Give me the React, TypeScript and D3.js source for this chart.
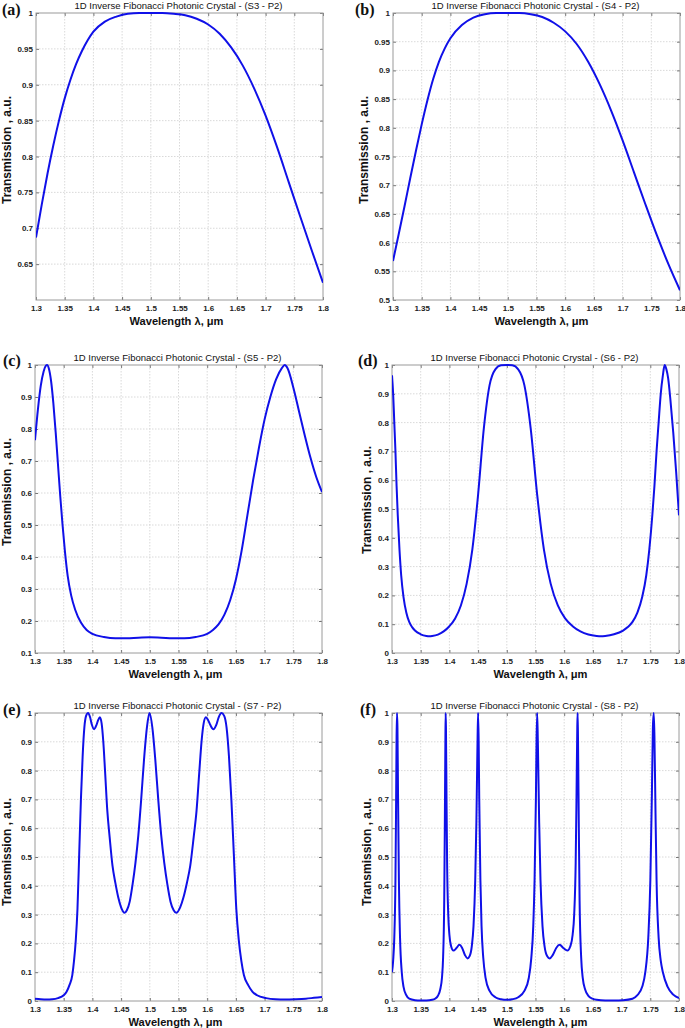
import React, { useEffect, useRef } from 'react';
import * as d3 from 'd3';

type Pt = [number, number];

const chartTitle = "1D Inverse Fibonacci Photonic Crystal";
const panelLetters = ["(a)", "(b)", "(c)", "(d)", "(e)", "(f)"];
const structureLabels = ["S3 - P2", "S4 - P2", "S5 - P2", "S6 - P2", "S7 - P2", "S8 - P2"];
const xAxisLabel = "Wavelength \u03bb, \u03bcm";
const yAxisLabel = "Transmission , a.u.";

const wavelengthDomain = [1.3, 1.8];
const wavelengthTicks = [1.3, 1.35, 1.4, 1.45, 1.5, 1.55, 1.6, 1.65, 1.7, 1.75, 1.8];

const yDomains = [[0.6, 1], [0.5, 1], [0.1, 1], [0, 1], [0, 1], [0, 1]];
const yTicksA = [0.65, 0.7, 0.75, 0.8, 0.85, 0.9, 0.95, 1];
const yTicksB = [0.5, 0.55, 0.6, 0.65, 0.7, 0.75, 0.8, 0.85, 0.9, 0.95, 1];
const yTicksC = [0.1, 0.2, 0.3, 0.4, 0.5, 0.6, 0.7, 0.8, 0.9, 1];
const yTicksFull = [0, 0.1, 0.2, 0.3, 0.4, 0.5, 0.6, 0.7, 0.8, 0.9, 1];

// S3 - P2
const seriesS3: Pt[] = [
    [1.30, 0.687], [1.31, 0.733], [1.32, 0.776], [1.33, 0.815], [1.34, 0.850], [1.35, 0.881],
    [1.36, 0.907], [1.37, 0.929], [1.38, 0.947], [1.39, 0.962], [1.40, 0.974], [1.42, 0.988],
    [1.44, 0.995], [1.46, 0.999], [1.48, 1.0], [1.50, 1.0], [1.52, 1.0], [1.54, 0.999],
    [1.56, 0.997], [1.58, 0.992], [1.60, 0.984], [1.62, 0.971], [1.64, 0.952], [1.66, 0.927],
    [1.68, 0.895], [1.70, 0.857], [1.72, 0.813], [1.74, 0.765], [1.76, 0.717], [1.78, 0.670],
    [1.80, 0.624]
];

// S4 - P2
const seriesS4: Pt[] = [
    [1.30, 0.568], [1.31, 0.615], [1.32, 0.663], [1.33, 0.712], [1.34, 0.760], [1.35, 0.806],
    [1.36, 0.848], [1.37, 0.885], [1.38, 0.915], [1.39, 0.938], [1.40, 0.956], [1.42, 0.979],
    [1.44, 0.992], [1.46, 0.998], [1.48, 1.0], [1.50, 1.0], [1.52, 1.0], [1.54, 0.998],
    [1.56, 0.993], [1.58, 0.983], [1.60, 0.968], [1.62, 0.946], [1.64, 0.915], [1.66, 0.876],
    [1.68, 0.830], [1.70, 0.778], [1.72, 0.722], [1.74, 0.666], [1.76, 0.612], [1.78, 0.562],
    [1.80, 0.517]
];

// S5 - P2
const seriesS5: Pt[] = [
    [1.300, 0.765], [1.305, 0.86], [1.310, 0.935], [1.315, 0.98], [1.319, 0.998], [1.321, 1.0],
    [1.324, 0.99], [1.328, 0.95], [1.332, 0.88], [1.336, 0.79], [1.340, 0.69], [1.344, 0.59],
    [1.348, 0.50], [1.352, 0.42], [1.357, 0.34], [1.363, 0.28], [1.37, 0.235], [1.38, 0.195],
    [1.39, 0.172], [1.40, 0.16], [1.42, 0.15], [1.44, 0.146], [1.46, 0.146], [1.48, 0.148],
    [1.50, 0.149], [1.52, 0.148], [1.54, 0.146], [1.56, 0.146], [1.58, 0.15], [1.60, 0.16],
    [1.61, 0.172], [1.62, 0.19], [1.63, 0.22], [1.64, 0.265], [1.65, 0.33], [1.66, 0.42],
    [1.67, 0.53], [1.68, 0.64], [1.69, 0.74], [1.70, 0.83], [1.71, 0.90], [1.72, 0.955],
    [1.73, 0.99], [1.735, 1.0], [1.74, 0.99], [1.75, 0.93], [1.76, 0.855], [1.77, 0.78],
    [1.78, 0.71], [1.79, 0.65], [1.80, 0.603]
];

// S6 - P2
const seriesS6: Pt[] = [
    [1.300, 0.964], [1.302, 0.90], [1.304, 0.80], [1.306, 0.70], [1.308, 0.58], [1.310, 0.48],
    [1.313, 0.36], [1.316, 0.27], [1.320, 0.195], [1.325, 0.14], [1.330, 0.108], [1.335, 0.09],
    [1.34, 0.078], [1.35, 0.065], [1.36, 0.059], [1.365, 0.058], [1.37, 0.059], [1.38, 0.064],
    [1.39, 0.075], [1.40, 0.093], [1.41, 0.12], [1.42, 0.165], [1.43, 0.24], [1.44, 0.36],
    [1.45, 0.55], [1.46, 0.78], [1.47, 0.93], [1.48, 0.985], [1.49, 0.999], [1.50, 1.0],
    [1.5095, 0.999], [1.5199, 0.985], [1.5306, 0.93], [1.5416, 0.78], [1.5529, 0.55],
    [1.5646, 0.36], [1.5765, 0.24], [1.5889, 0.165], [1.6016, 0.12], [1.6147, 0.093],
    [1.6282, 0.075], [1.6421, 0.064], [1.6565, 0.059], [1.6639, 0.058], [1.6714, 0.059],
    [1.6868, 0.065], [1.7026, 0.078], [1.7108, 0.09], [1.7190, 0.108], [1.7275, 0.14],
    [1.7360, 0.195], [1.7430, 0.27], [1.7483, 0.36], [1.7536, 0.48], [1.7572, 0.58],
    [1.7609, 0.70], [1.7645, 0.80], [1.7682, 0.90], [1.7719, 0.964], [1.775, 1.0],
    [1.778, 0.985], [1.781, 0.955], [1.785, 0.88], [1.79, 0.765], [1.795, 0.63], [1.80, 0.478]
];

// S7 - P2
const seriesS7: Pt[] = [
    [1.30, 0.008], [1.31, 0.006], [1.32, 0.005], [1.33, 0.006], [1.34, 0.01], [1.35, 0.02],
    [1.355, 0.032], [1.36, 0.055], [1.365, 0.09], [1.368, 0.14], [1.371, 0.21], [1.374, 0.32],
    [1.377, 0.51], [1.380, 0.70], [1.383, 0.85], [1.386, 0.95], [1.389, 0.99], [1.3925, 1.0],
    [1.396, 0.985], [1.399, 0.96], [1.403, 0.944], [1.407, 0.958], [1.410, 0.975], [1.413, 0.985],
    [1.416, 0.965], [1.419, 0.90], [1.422, 0.80], [1.426, 0.66], [1.43, 0.57], [1.435, 0.47],
    [1.44, 0.41], [1.445, 0.36], [1.45, 0.325], [1.456, 0.306], [1.46, 0.315], [1.465, 0.345],
    [1.47, 0.405], [1.475, 0.48], [1.48, 0.575], [1.485, 0.70], [1.49, 0.84], [1.495, 0.95],
    [1.4994, 1.0], [1.5044, 0.95], [1.5095, 0.84], [1.5147, 0.70], [1.5199, 0.575], [1.5252, 0.48],
    [1.5306, 0.405], [1.5361, 0.345], [1.5416, 0.315], [1.5461, 0.306], [1.5529, 0.325],
    [1.5587, 0.36], [1.5646, 0.41], [1.5705, 0.47], [1.5765, 0.57], [1.5814, 0.66], [1.5864, 0.80],
    [1.5901, 0.90], [1.5939, 0.965], [1.5977, 0.985], [1.6016, 0.975], [1.6055, 0.958],
    [1.6107, 0.944], [1.6160, 0.96], [1.6200, 0.985], [1.6248, 1.0], [1.6296, 0.99],
    [1.6337, 0.95], [1.6379, 0.85], [1.6421, 0.70], [1.6464, 0.51], [1.6507, 0.32], [1.6551, 0.21],
    [1.6594, 0.14], [1.6639, 0.09], [1.6714, 0.055], [1.6790, 0.032], [1.6868, 0.02],
    [1.7026, 0.01], [1.7190, 0.006], [1.7360, 0.005], [1.7536, 0.006], [1.7719, 0.008],
    [1.786, 0.011], [1.80, 0.014]
];

// S8 - P2
const seriesS8: Pt[] = [
    [1.300, 0.10], [1.302, 0.14], [1.304, 0.22], [1.306, 0.42], [1.307, 0.65], [1.308, 0.92],
    [1.3087, 1.0], [1.3095, 0.95], [1.3105, 0.72], [1.312, 0.42], [1.314, 0.22], [1.317, 0.10],
    [1.320, 0.05], [1.325, 0.02], [1.330, 0.008], [1.340, 0.003], [1.350, 0.002], [1.360, 0.002],
    [1.370, 0.004], [1.375, 0.008], [1.380, 0.018], [1.384, 0.04], [1.387, 0.08], [1.389, 0.15],
    [1.391, 0.35], [1.392, 0.6], [1.393, 0.9], [1.3935, 1.0], [1.394, 0.95], [1.395, 0.7],
    [1.396, 0.48], [1.398, 0.30], [1.400, 0.23], [1.403, 0.19], [1.407, 0.175], [1.412, 0.183],
    [1.4175, 0.195], [1.422, 0.185], [1.427, 0.16], [1.4315, 0.148], [1.435, 0.155], [1.439, 0.19],
    [1.442, 0.26], [1.445, 0.42], [1.447, 0.62], [1.449, 0.9], [1.450, 1.0], [1.451, 0.9],
    [1.452, 0.7], [1.454, 0.42], [1.456, 0.26], [1.459, 0.15], [1.463, 0.08], [1.470, 0.035],
    [1.480, 0.013], [1.490, 0.006], [1.500, 0.004], [1.5095, 0.006], [1.5199, 0.013],
    [1.5306, 0.035], [1.5383, 0.08], [1.5427, 0.15], [1.5461, 0.26], [1.5484, 0.42], [1.5507, 0.7],
    [1.5518, 0.9], [1.5529, 1.0], [1.5541, 0.9], [1.5564, 0.62], [1.5587, 0.42], [1.5622, 0.26],
    [1.5658, 0.19], [1.5705, 0.155], [1.5747, 0.148], [1.5802, 0.16], [1.5864, 0.185],
    [1.5920, 0.195], [1.5990, 0.183], [1.6055, 0.175], [1.6107, 0.19], [1.6147, 0.23],
    [1.6174, 0.30], [1.6200, 0.48], [1.6214, 0.7], [1.6228, 0.95], [1.6234, 1.0], [1.6241, 0.9],
    [1.6255, 0.6], [1.6268, 0.35], [1.6296, 0.15], [1.6323, 0.08], [1.6365, 0.04], [1.6421, 0.018],
    [1.6493, 0.008], [1.6565, 0.004], [1.6714, 0.002], [1.6868, 0.002], [1.7026, 0.003],
    [1.7190, 0.008], [1.7275, 0.02], [1.7360, 0.05], [1.7413, 0.10], [1.7465, 0.22], [1.7501, 0.42],
    [1.7528, 0.72], [1.7545, 0.95], [1.7560, 1.0], [1.7572, 0.92], [1.7591, 0.65], [1.7609, 0.42],
    [1.7645, 0.22], [1.7682, 0.14], [1.7719, 0.10], [1.78, 0.05], [1.79, 0.022], [1.80, 0.01]
];

const allSeries = [seriesS3, seriesS4, seriesS5, seriesS6, seriesS7, seriesS8];
const allYTicks = [yTicksA, yTicksB, yTicksC, yTicksFull, yTicksFull, yTicksFull];

// pixel boxes of the six axes
const layout = [
    { left: 36, right: 323, top: 13, bottom: 300, letterX: 2, letterY: 15, yLabX: 11, yLabY: 150, xLabDx: -3 },
    { left: 393, right: 680, top: 13, bottom: 300, letterX: 355, letterY: 15, yLabX: 368, yLabY: 150, xLabDx: 5 },
    { left: 35, right: 322, top: 365, bottom: 653, letterX: 3, letterY: 366, yLabX: 11, yLabY: 492, xLabDx: -3 },
    { left: 392, right: 679, top: 365, bottom: 653, letterX: 358, letterY: 366, yLabX: 371, yLabY: 500, xLabDx: 5 },
    { left: 35, right: 322, top: 713, bottom: 1001, letterX: 3, letterY: 715, yLabX: 11, yLabY: 852, xLabDx: -3 },
    { left: 392, right: 679, top: 713, bottom: 1001, letterX: 360, letterY: 715, yLabX: 371, yLabY: 852, xLabDx: 5 },
];

const FONT = "'Liberation Sans', Arial, Helvetica, sans-serif";

const App: React.FC = () => {
    const ref = useRef<SVGSVGElement>(null);

    useEffect(() => {
        const svg = d3.select(ref.current);
        svg.selectAll("*").remove();

        allSeries.forEach((series, i) => {
            const L = layout[i];
            const x = d3.scaleLinear().domain(wavelengthDomain).range([L.left, L.right]);
            const y = d3.scaleLinear().domain(yDomains[i]).range([L.bottom, L.top]);
            const yTicks = allYTicks[i];
            const g = svg.append("g");

            // grid
            g.append("g")
                .selectAll("line")
                .data(wavelengthTicks.slice(1, -1))
                .enter()
                .append("line")
                .attr("x1", d => x(d)).attr("x2", d => x(d))
                .attr("y1", L.top).attr("y2", L.bottom)
                .attr("stroke", "#cfcfcf")
                .attr("stroke-width", 0.8)
                .attr("stroke-dasharray", "1.5,1.5");

            g.append("g")
                .selectAll("line")
                .data(yTicks.filter(t => t !== yDomains[i][0] && t !== yDomains[i][1]))
                .enter()
                .append("line")
                .attr("x1", L.left).attr("x2", L.right)
                .attr("y1", d => y(d)).attr("y2", d => y(d))
                .attr("stroke", "#cfcfcf")
                .attr("stroke-width", 0.8)
                .attr("stroke-dasharray", "1.5,1.5");

            // axes (ticks point inwards)
            const fmt = (d: d3.NumberValue) => String(+d);
            const bottomAxis = g.append("g")
                .attr("transform", `translate(0, ${L.bottom})`)
                .call(d3.axisBottom(x).tickValues(wavelengthTicks).tickSizeInner(-3).tickSizeOuter(0).tickPadding(5).tickFormat(fmt));
            const leftAxis = g.append("g")
                .attr("transform", `translate(${L.left}, 0)`)
                .call(d3.axisLeft(y).tickValues(yTicks).tickSizeInner(-3).tickSizeOuter(0).tickPadding(3).tickFormat(fmt));
            const topAxis = g.append("g")
                .attr("transform", `translate(0, ${L.top})`)
                .call(d3.axisTop(x).tickValues(wavelengthTicks).tickSizeInner(-3).tickSizeOuter(0).tickFormat(() => ""));
            const rightAxis = g.append("g")
                .attr("transform", `translate(${L.right}, 0)`)
                .call(d3.axisRight(y).tickValues(yTicks).tickSizeInner(-3).tickSizeOuter(0).tickFormat(() => ""));

            [bottomAxis, leftAxis, topAxis, rightAxis].forEach(ax => {
                ax.select(".domain").remove();
                ax.selectAll("line").attr("stroke", "#555").attr("stroke-width", 0.8);
                ax.selectAll("text")
                    .attr("fill", "#222")
                    .style("font-family", FONT)
                    .style("font-size", "8px")
                    .style("font-weight", "bold");
            });

            // box
            g.append("rect")
                .attr("x", L.left).attr("y", L.top)
                .attr("width", L.right - L.left).attr("height", L.bottom - L.top)
                .attr("fill", "none")
                .attr("stroke", "#9a9a9a")
                .attr("stroke-width", 1);

            // curve
            const clipId = `clip-${i}`;
            svg.append("clipPath").attr("id", clipId)
                .append("rect")
                .attr("x", L.left).attr("y", L.top - 1)
                .attr("width", L.right - L.left).attr("height", L.bottom - L.top + 2);

            const line = d3.line<Pt>()
                .x(d => x(d[0]))
                .y(d => y(d[1]))
                .curve(d3.curveMonotoneX);

            g.append("path")
                .datum(series)
                .attr("clip-path", `url(#${clipId})`)
                .attr("d", line)
                .attr("fill", "none")
                .attr("stroke", "#1010e8")
                .attr("stroke-width", 2)
                .attr("stroke-linejoin", "round");

            // title
            g.append("text")
                .attr("x", (L.left + L.right) / 2 - 1)
                .attr("y", L.top - 4.5)
                .attr("text-anchor", "middle")
                .attr("textLength", 208)
                .attr("lengthAdjust", "spacingAndGlyphs")
                .style("font-family", FONT)
                .style("font-size", "9.5px")
                .attr("fill", "#111")
                .text(`${chartTitle} - (${structureLabels[i]})`);

            // x label
            g.append("text")
                .attr("x", (L.left + L.right) / 2 + L.xLabDx)
                .attr("y", L.bottom + 24.5)
                .attr("text-anchor", "middle")
                .attr("textLength", 94)
                .attr("lengthAdjust", "spacingAndGlyphs")
                .style("font-family", FONT)
                .style("font-size", "11.5px")
                .style("font-weight", "bold")
                .attr("fill", "#111")
                .text(xAxisLabel);

            // y label
            g.append("text")
                .attr("transform", `translate(${L.yLabX}, ${L.yLabY}) rotate(-90)`)
                .attr("text-anchor", "middle")
                .style("font-family", FONT)
                .style("font-size", "12px")
                .style("font-weight", "bold")
                .attr("fill", "#111")
                .text(yAxisLabel);

            // panel letter
            g.append("text")
                .attr("x", L.letterX)
                .attr("y", L.letterY)
                .style("font-family", "'Liberation Serif', 'Times New Roman', serif")
                .style("font-size", "16px")
                .style("font-weight", "bold")
                .attr("fill", "#111")
                .text(panelLetters[i]);
        });
    }, []);

    return (
        <div style={{ position: "absolute", left: 0, top: 0 }}>
            <svg ref={ref} width={685} height={1028} style={{ display: "block", background: "#fff" }} />
        </div>
    );
};

export default App;
